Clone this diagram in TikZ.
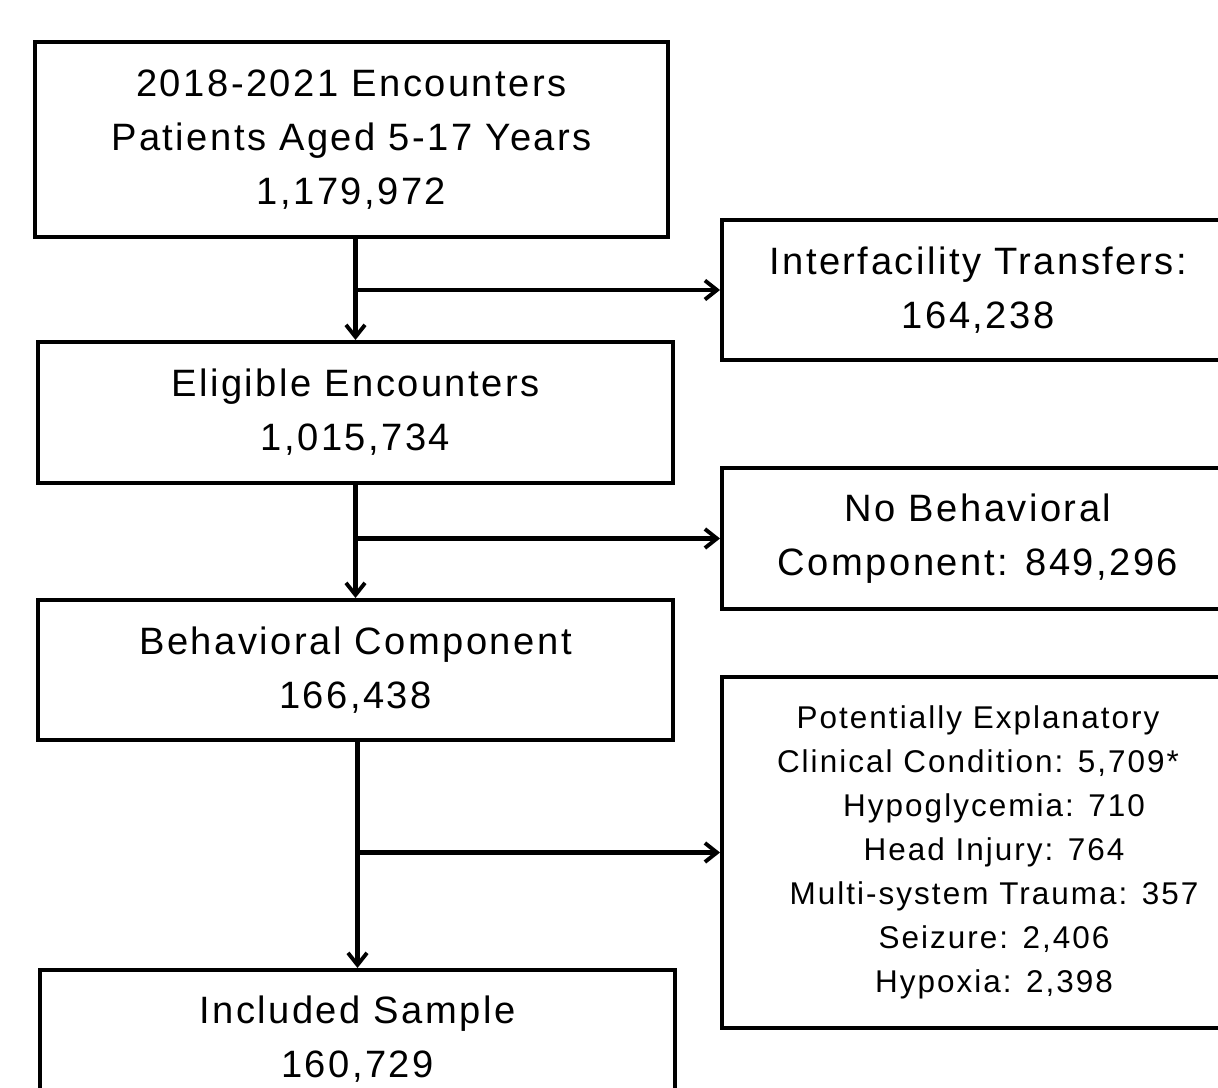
\documentclass[tikz,border=0pt]{standalone}
\usepackage{fontspec}
\setmainfont{Liberation Sans}[LetterSpace=6.5]
\usetikzlibrary{arrows.meta}
\usetikzlibrary{positioning}

\begin{document}
\begin{tikzpicture}[x=0.02cm,y=-0.02cm,
        box/.style={draw,line width=2.3pt,inner sep=0pt,align=center,
            font=\fontsize{21.7}{30.6}\selectfont},
        sidebox/.style={box,minimum width=10.24cm},
        arr/.style={line width=2.3pt,-{Straight Barb[length=2.4mm,width=3.8mm,line width=2.2pt]}}]
        \useasboundingbox (0,0) rectangle (1218,1088);
        \node[box,minimum width=12.66cm,minimum height=3.9cm] (enc) at (351.5,139.5)
            {2018-2021 Encounters\\Patients Aged 5-17 Years\\1,179,972};
        \node[sidebox,minimum height=2.8cm] (trans) at (978,290)
            {Interfacility Transfers:\\164,238};
        \node[box,minimum width=12.7cm,minimum height=2.82cm] (elig) at (355.5,412.5)
            {Eligible Encounters\\1,015,734};
        \node[sidebox,minimum height=2.82cm] (nobeh) at (978,538.5)
            {No Behavioral\\Component: 849,296};
        \node[box,minimum width=12.7cm,minimum height=2.8cm] (beh) at (355.5,670)
            {Behavioral Component\\166,438};
        \node[sidebox,minimum height=7.02cm,font=\fontsize{17.9}{25}\selectfont] (clin) at (978,852.5)
            {Potentially Explanatory\\Clinical Condition: 5,709*\\
             \hspace*{0.64cm}Hypoglycemia: 710\\\hspace*{0.64cm}Head Injury: 764\\
             \hspace*{0.64cm}Multi-system Trauma: 357\\\hspace*{0.64cm}Seizure: 2,406\\
             \hspace*{0.64cm}Hypoxia: 2,398};
        \node[box,minimum width=12.7cm,minimum height=2.76cm] (incl) at (357.5,1039)
            {Included Sample\\160,729};
        % flow down the left, exclusions to the right
        \coordinate (b1) at (elig.north |- trans.west);
        \coordinate (b2) at (elig.south |- nobeh.west);
        \coordinate (b3) at (incl.north |- clin.west);
        \draw[arr] (enc.south -| elig.north) -- (elig.north);
        \draw[arr] (b1) -- (trans.west);
        \draw[arr] (elig.south) -- (beh.north);
        \draw[arr] (b2) -- (nobeh.west);
        \draw[arr] (beh.south -| incl.north) -- (incl.north);
        \draw[arr] (b3) -- (clin.west);
\end{tikzpicture}
\end{document}
